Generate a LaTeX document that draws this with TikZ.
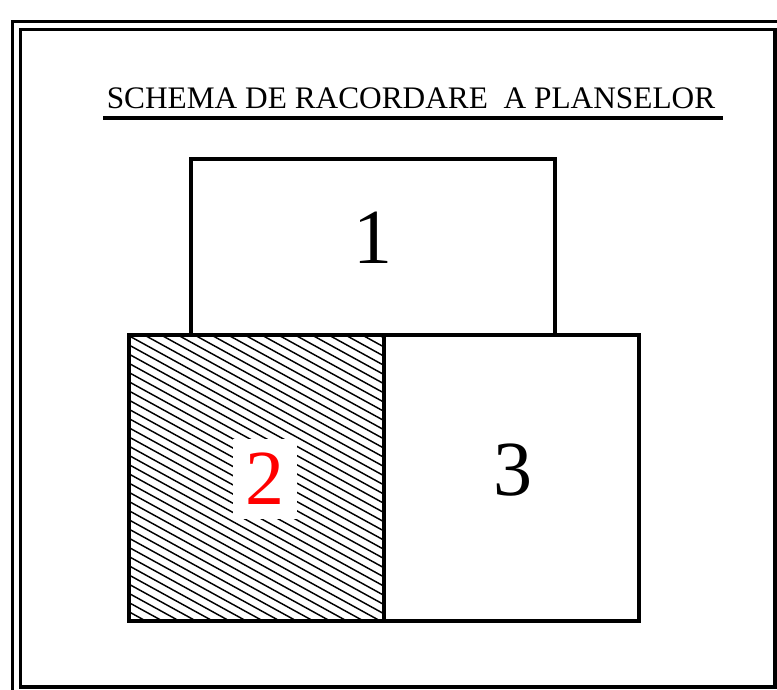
\documentclass[tikz,border=0pt]{standalone}
\usepackage{fontspec}
\setmainfont{Liberation Serif}

\begin{document}
\begin{tikzpicture}[x=0.75pt,y=0.75pt,
  frame/.style={line width=2.5pt},
  sheet/.style={line width=2.5pt},
  hatch/.style={line width=1.1pt},
  num/.style={font=\fontsize{58.5}{60}\selectfont,inner sep=0pt}]
  \useasboundingbox (0,0) rectangle (777,689);
  % double frame, cut at right and bottom
  \draw[frame] (12.5,-6) rectangle (783,667.5);
  \draw[frame] (20.5,2) rectangle (775,659.5);
  % title, underlined
  \node[font=\fontsize{23.5}{26}\selectfont,anchor=base,inner sep=0pt] (title) at (411,580) {SCHEMA DE RACORDARE~ A PLANSELOR};
  \draw[line width=2.8pt] (103,571) -- (723,571);
  % sheet 1 on top
  \draw[sheet] (191,354) rectangle (555,530);
  % sheet 2 = hatched
  \begin{scope}
    \clip (129,68) rectangle (384,354);
    \foreach \i in {0,...,47}
      \draw[hatch] (129,68+9.2*\i) -- ++(255,-140);
  \end{scope}
  \draw[sheet] (129,68) rectangle (384,354);
  % sheet 3
  \draw[sheet] (384,68) rectangle (639,354);
  \node[num] (n1) at (373,451) {1};
  \node[num,fill=white,text=red,minimum width=48pt,minimum height=60pt] (n2) at (265,210) {2};
  \node[num] (n3) at (513,219) {3};
\end{tikzpicture}
\end{document}
